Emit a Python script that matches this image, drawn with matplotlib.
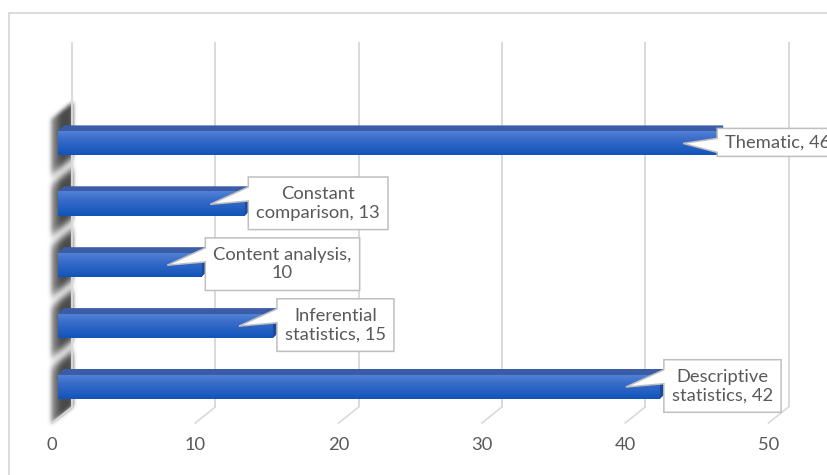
import numpy as np
import matplotlib
matplotlib.use("Agg")
import matplotlib.pyplot as plt
from matplotlib.patches import Polygon
from matplotlib.lines import Line2D
from matplotlib.colors import LinearSegmentedColormap
from matplotlib.transforms import Affine2D, IdentityTransform

# ---- data -------------------------------------------------------------
categories = ["Descriptive statistics", "Inferential statistics",
              "Content analysis", "Constant comparison", "Thematic"]
counts = [42, 15, 10, 13, 46]
callout_formats = ["Descriptive\nstatistics, {}", "Inferential\nstatistics, {}",
                   "Content analysis,\n{}", "Constant\ncomparison, {}",
                   "Thematic, {}"]
x_ticks = [0, 10, 20, 30, 40, 50]

# ---- figure / plot area (pixel layout) --------------------------------
W, H, DPI = 828, 475, 100
FONT = "Lato"
FS = 13.2
TXT = "#595959"
GRID = "#d9d9d9"

fig = plt.figure(figsize=(W / DPI, H / DPI), dpi=DPI)
fig.patch.set_facecolor("white")

PX_X0, PX_X50 = 58.0, 774.5      # bar front plane for x=0 / x=50
PX_TOP, PX_FLOOR = 42.0, 423.0   # top of grid, front edge of floor
ROW = 60.9                       # vertical spacing of the bars
FIRST_ROW = 387.0                # centre of the lowest bar

ax = fig.add_axes([PX_X0 / W, (H - PX_FLOOR) / H,
                   (PX_X50 - PX_X0) / W, (PX_FLOOR - PX_TOP) / H])
ax.set_autoscale_on(False)
ax.patch.set_visible(False)
for sp in ax.spines.values():
    sp.set_visible(False)
ax.set_yticks([])

ylo = -(PX_FLOOR - FIRST_ROW) / ROW
yhi = ylo + (PX_FLOOR - PX_TOP) / ROW
ax.set_xlim(0, 50)
ax.set_ylim(ylo, yhi)

px_per_x = (PX_X50 - PX_X0) / 50.0
ux = lambda px: px / px_per_x      # pixel -> data (x)
uy = lambda px: px / ROW           # pixel -> data (y)

# ---- 3-D floor/back-wall gridlines --------------------------------------
back_dx = ux(14)       # back wall offset to the right
front_dx = ux(-6)      # front floor edge offset to the left
back_floor = ylo + uy(16)
for t in x_ticks:
    ax.plot([t + back_dx, t + back_dx], [back_floor, yhi], color=GRID,
            lw=1.4, zorder=1, solid_capstyle="butt", clip_on=False)
    ax.plot([t + back_dx, t + front_dx], [back_floor, ylo], color=GRID,
            lw=1.2, zorder=1, clip_on=False)

# ---- x tick labels, shifted onto the front floor edge -----------------
ax.set_xticks(x_ticks)
ax.set_xticklabels([str(t) for t in x_ticks], fontsize=FS, color=TXT,
                   family=FONT)
ax.tick_params(axis="x", length=0, pad=10.0)
for lab in ax.get_xticklabels():
    lab.set_transform(lab.get_transform() + Affine2D().translate(-6, 0))

# ---- side wall shading (shadow of the bars) ---------------------------
yy, xx = np.mgrid[0:H, 0:W].astype(float)
d = (xx - 51.0) / 21.0
s = yy + 0.8 * (xx - 51.0)
centers_s = [FIRST_ROW - i * ROW + 5.5 for i in range(len(counts))]
s_top = min(centers_s) - ROW / 2
s_bot = max(centers_s) + ROW / 2
inside = (d >= 0) & (d <= 1) & (s >= s_top) & (s <= s_bot)
hprof = 0.55 + 0.45 * np.clip(d / 0.45, 0, 1)
gap = np.ones_like(s)
for c in sorted(centers_s)[:-1]:
    gap -= 0.85 * np.exp(-((s - (c + ROW / 2)) / 6.5) ** 2)
dark = np.where(inside, hprof * gap, 0.0)
# soft blur
k = np.exp(-0.5 * (np.arange(-6, 7) / 2.0) ** 2)
k /= k.sum()
dark = np.apply_along_axis(lambda r: np.convolve(r, k, mode="same"), 1, dark)
dark = np.apply_along_axis(lambda c: np.convolve(c, k, mode="same"), 0, dark)
wall = np.zeros((H, W, 4))
wall[..., :3] = 0.25
wall[..., 3] = np.clip(dark * 0.95, 0, 1)
fig.figimage(wall, xo=0, yo=0, origin="upper", zorder=-1)

# ---- 3-D bars -----------------------------------------------------------
bar_h = uy(24)
dep_x, dep_y = ux(6), uy(6)
face_cmap = LinearSegmentedColormap.from_list(
    "face", ["#5182d6", "#3a6cca", "#2560c2", "#1254b8"])
grad = np.linspace(0, 1, 64).reshape(-1, 1)
for i, v in enumerate(counts):
    y = i
    bot, top = y - bar_h / 2, y + bar_h / 2
    # top face
    ax.add_patch(Polygon([(0, top), (v, top), (v + dep_x, top + dep_y),
                          (dep_x, top + dep_y)], closed=True,
                         fc="#3b5ca6", ec="none", zorder=3))
    # end cap
    ax.add_patch(Polygon([(v, bot), (v + dep_x, bot + dep_y),
                          (v + dep_x, top + dep_y), (v, top)], closed=True,
                         fc="#1d4a9a", ec="none", zorder=3))
    # front face with vertical gradient
    ax.imshow(grad, extent=(0, v, bot, top), origin="upper", aspect="auto",
              cmap=face_cmap, interpolation="bicubic", zorder=4)
ax.set_xlim(0, 50)
ax.set_ylim(ylo, yhi)

# ---- outer chart border -------------------------------------------------
fig.add_artist(Line2D([8.5, 8.5], [0, H - 12.5], color=GRID, lw=1.3,
                      transform=IdentityTransform()))
fig.add_artist(Line2D([8.5, W], [H - 12.5, H - 12.5], color=GRID, lw=1.3,
                      transform=IdentityTransform()))

# ---- data callouts ------------------------------------------------------
renderer = fig.canvas.get_renderer()
PADX = 8
for i, (v, fmt) in enumerate(zip(counts, callout_formats)):
    label = fmt.format(v)
    pady = 6 + 3 * label.count("\n")
    ex, ey = ax.transData.transform((v, i))
    tx, ty = ax.transData.transform((v - ux(34), i))
    t = fig.text(0, ey + 1, label, ha="left", va="center",
                 multialignment="center", fontsize=FS, color=TXT,
                 family=FONT, transform=IdentityTransform(), zorder=6)
    tw = t.get_window_extent(renderer).width
    left = ex + 4
    if left + tw + 2 * PADX > W:      # callouts running off the edge sit flush
        left = ex
    t.set_x(left + PADX)
    bb = t.get_window_extent(renderer)
    L, R = left, bb.x1 + PADX
    B, T = bb.y0 - pady, bb.y1 + pady
    pts = [(L, T), (R, T), (R, B), (L, B), (L, T - 24), (tx, ty), (L, T - 10)]
    fig.add_artist(Polygon(pts, closed=True, fc="white", ec="#bfbfbf", lw=1.1,
                           transform=IdentityTransform(), zorder=5))

fig.savefig("out.png", dpi=DPI)
